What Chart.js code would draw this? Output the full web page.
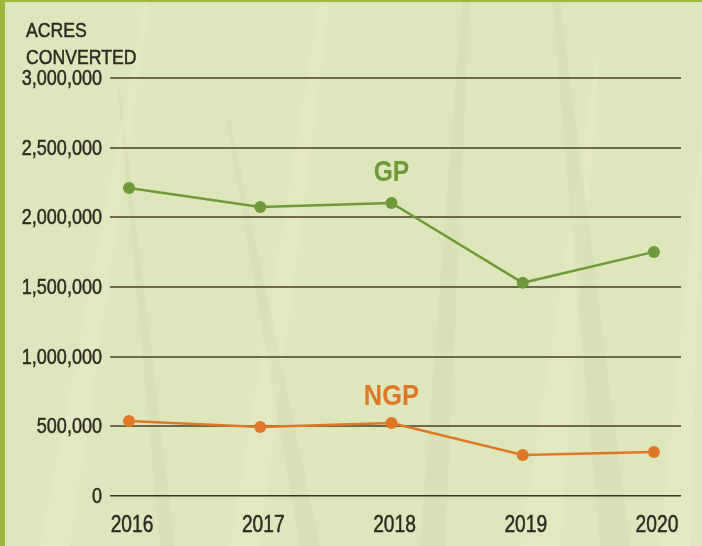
<!DOCTYPE html>
<html lang="en">
<head>
    <meta charset="UTF-8">
    <title>Acres Converted</title>
    <script src="https://cdn.jsdelivr.net/npm/chart.js"></script>
    <style>
        html, body { margin: 0; padding: 0; background: #dfe6bd; }
        #wrap { width: 702px; height: 546px; position: relative; }
    </style>
</head>
<body>
    <div id="wrap"><canvas id="acresChart" width="702" height="546"></canvas></div>

    <script>
        // Values
        const years = [2016, 2017, 2018, 2019, 2020];
        const gpValues = [2210000, 2075000, 2103000, 1530000, 1752000];
        const ngpValues = [538000, 496000, 524000, 295000, 316000];
        const yTicks = [0, 500000, 1000000, 1500000, 2000000, 2500000, 3000000];

        const FONT = '"Liberation Sans", Arial, sans-serif';
        const GREEN = '#6f9a3b';
        const ORANGE = '#e07726';
        const TEXT = '#2f2a1f';

        // condensed-looking text: squeeze horizontally around the anchor point
        function narrowText(c, str, x, y, align, squeeze, heavy) {
            c.save();
            c.translate(x, y);
            c.scale(squeeze, 1);
            c.textAlign = align;
            c.fillText(str, 0, 0);
            if (heavy) {
                c.strokeStyle = c.fillStyle;
                c.lineWidth = heavy;
                c.strokeText(str, 0, 0);
            }
            c.restore();
        }

        // a few faint grass blades in the background
        const blades = [
            [40, 546, 70, 546, 150, 0, 145, 0],
            [160, 546, 175, 546, 120, 90, 118, 90],
            [230, 546, 260, 546, 330, 0, 320, 0],
            [420, 546, 445, 546, 470, 0, 462, 0],
            [520, 546, 560, 546, 600, 60, 596, 60],
            [600, 546, 630, 546, 560, 0, 552, 0],
            [660, 546, 690, 546, 702, 150, 702, 120],
            [300, 546, 320, 546, 230, 120, 226, 120]
        ];

        const decor = {
            id: 'decor',
            beforeDraw(chart) {
                const c = chart.ctx;
                c.save();
                c.fillStyle = '#dee6bc';
                c.fillRect(0, 0, chart.width, chart.height);
                blades.forEach((b, i) => {
                    c.fillStyle = i % 2 ? 'rgba(200,214,170,0.22)' : 'rgba(236,240,200,0.3)';
                    c.beginPath();
                    c.moveTo(b[0], b[1]);
                    c.lineTo(b[2], b[3]);
                    c.lineTo(b[4], b[5]);
                    c.lineTo(b[6], b[7]);
                    c.closePath();
                    c.fill();
                });
                c.fillStyle = '#9db83c';
                c.fillRect(0, 0, 5, chart.height);
                c.fillRect(0, 0, chart.width, 2);
                c.restore();
            },
            afterDraw(chart) {
                const c = chart.ctx;
                const x = chart.scales.x, y = chart.scales.y;
                c.save();
                c.fillStyle = TEXT;
                c.textBaseline = 'middle';

                c.font = '21px ' + FONT;
                narrowText(c, 'ACRES', 26, 31, 'left', 0.84, 0.5);
                narrowText(c, 'CONVERTED', 26, 58, 'left', 0.84, 0.5);

                // y tick labels from the scale
                c.font = '22px ' + FONT;
                y.ticks.forEach(t => {
                    narrowText(c, t.value.toLocaleString('en-US'), 102, y.getPixelForValue(t.value) + 1, 'right', 0.82, 0.5);
                });

                // x tick labels from the scale
                c.font = '24px ' + FONT;
                x.ticks.forEach(t => {
                    narrowText(c, String(t.value), x.getPixelForValue(t.value) + 3, 525, 'center', 0.8, 0.5);
                });

                c.font = 'bold 30px ' + FONT;
                c.fillStyle = GREEN;
                narrowText(c, 'GP', x.getPixelForValue(2018), 173, 'center', 0.82);
                c.fillStyle = ORANGE;
                narrowText(c, 'NGP', x.getPixelForValue(2018), 397, 'center', 0.85);
                c.restore();
            }
        };

        const ctx = document.getElementById('acresChart').getContext('2d');
        new Chart(ctx, {
            type: 'line',
            data: {
                datasets: [
                    {
                        label: 'GP',
                        data: years.map((yr, i) => ({ x: yr, y: gpValues[i] })),
                        borderColor: GREEN,
                        backgroundColor: GREEN,
                        borderWidth: 2.5,
                        pointRadius: 6,
                        pointBorderWidth: 0,
                        tension: 0
                    },
                    {
                        label: 'NGP',
                        data: years.map((yr, i) => ({ x: yr, y: ngpValues[i] })),
                        borderColor: ORANGE,
                        backgroundColor: ORANGE,
                        borderWidth: 2.5,
                        pointRadius: 6,
                        pointBorderWidth: 0,
                        tension: 0
                    }
                ]
            },
            options: {
                responsive: false,
                animation: false,
                layout: { padding: { top: 78, right: 21, left: 0, bottom: 0 } },
                plugins: {
                    legend: { display: false },
                    tooltip: { enabled: false }
                },
                scales: {
                    x: {
                        type: 'linear',
                        min: 2015.855,
                        max: 2020.206,
                        afterBuildTicks: (scale) => { scale.ticks = years.map(v => ({ value: v })); },
                        afterFit: (scale) => { scale.height = 50; },
                        grid: { display: false, drawTicks: false },
                        border: { display: false },
                        ticks: { display: false }
                    },
                    y: {
                        min: 0,
                        max: 3000000,
                        afterBuildTicks: (scale) => { scale.ticks = yTicks.map(v => ({ value: v })); },
                        afterFit: (scale) => { scale.width = 110; },
                        grid: {
                            drawTicks: false,
                            color: (c) => c.tick && c.tick.value === 0 ? '#3a3121' : '#6f6849',
                            lineWidth: (c) => c.tick && c.tick.value === 0 ? 1.5 : 2
                        },
                        border: { display: false },
                        ticks: { display: false }
                    }
                }
            },
            plugins: [decor]
        });
    </script>
</body>
</html>
